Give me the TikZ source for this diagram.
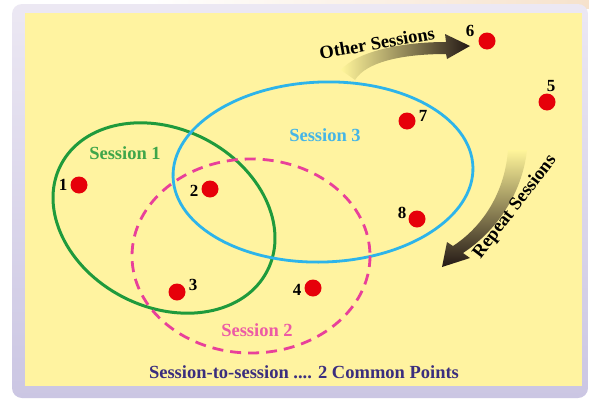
\documentclass[tikz,border=0pt]{standalone}
\usepackage{fontspec}
\setmainfont{Liberation Serif}
\definecolor{bgyellow}{HTML}{FFF3A0}
\definecolor{frametop}{HTML}{ECE8F3}
\definecolor{framebot}{HTML}{CBC6E3}
\definecolor{sgreen}{HTML}{1F9A3C}
\definecolor{sgreentext}{HTML}{3FA64A}
\definecolor{sblue}{HTML}{2DB4EA}
\definecolor{sbluetext}{HTML}{45B5E6}
\definecolor{spink}{HTML}{E8409A}
\definecolor{spinktext}{HTML}{EC5AA5}
\definecolor{dotred}{HTML}{E6000A}
\definecolor{indigo}{HTML}{3B2E7E}
\definecolor{arrowdark}{HTML}{231815}
\definecolor{arrowlight}{HTML}{FFF59A}
\definecolor{peach}{HTML}{F6E2CC}
\tikzset{
  dot/.style={circle, fill=dotred, minimum size=17pt, inner sep=0pt},
  num/.style={font=\fontsize{17}{18}\selectfont\bfseries, text=black, inner sep=0pt},
  stitle/.style={font=\fontsize{18.5}{20}\selectfont\bfseries, inner sep=0pt},
  arrowtext/.style={font=\fontsize{18.5}{20}\selectfont\bfseries, text=black, inner sep=0pt},
  ses1/.style={draw=sgreen, line width=3pt},
  ses3/.style={draw=sblue, line width=2.8pt},
  ses2/.style={draw=spink, line width=2.8pt, dash pattern=on 11pt off 7pt},
}
\begin{document}
\begin{tikzpicture}[x=1pt,y=-1pt]
\useasboundingbox (0,0) rectangle (589,399);
% outside background
\fill[white] (0,0) rectangle (589,399);
\shade[left color=white, right color=peach] (150,0) rectangle (589,8);
% frame
\shade[top color=frametop, bottom color=framebot, rounded corners=10pt] (12,4) rectangle (588,398);
\fill[bgyellow] (25,13) rectangle (582,386);

% ellipses
\draw[ses1, rotate around={-27:(164,218)}] (164,218) ellipse [x radius=116, y radius=89];
\draw[ses3, rotate around={2:(323,172)}] (323,172) ellipse [x radius=150, y radius=90];
\draw[ses2] (251,256) ellipse [x radius=119, y radius=97];

% session labels
\node[stitle, text=sgreentext] (t1) at (125,153) {Session 1};
\node[stitle, text=sbluetext] (t3) at (325,135) {Session 3};
\node[stitle, text=spinktext] (t2) at (257,330) {Session 2};
\node[stitle, text=indigo] (bottom) at (304,372) {Session-to-session .... 2 Common Points};

% points
\node[dot] (p1) at (79,185) {};
\node[dot] (p2) at (210,189) {};
\node[dot] (p3) at (177,292) {};
\node[dot] (p4) at (313,288) {};
\node[dot] (p5) at (547,102) {};
\node[dot] (p6) at (487,41) {};
\node[dot] (p7) at (407,121) {};
\node[dot] (p8) at (417,219) {};
\node[num] (n1) at (63,185) {1};
\node[num] (n2) at (194,191) {2};
\node[num] (n3) at (193,285) {3};
\node[num] (n4) at (297,290) {4};
\node[num] (n5) at (551,86) {5};
\node[num] (n6) at (470,31) {6};
\node[num] (n7) at (423,116) {7};
\node[num] (n8) at (402,213) {8};

% Other Sessions arrow
\shade[left color=arrowlight, right color=arrowdark]
  (341,70) .. controls (356,52) and (400,42) .. (446,42)
  -- (445,34) -- (470,46) -- (447,59) -- (446,54)
  .. controls (402,54) and (366,62) .. (355,80) -- cycle;
\node[arrowtext, rotate=10] (other) at (377,43) {Other Sessions};

% Repeat Sessions arrow
\shade[top color=arrowlight, bottom color=arrowdark]
  (508,150) .. controls (505,190) and (485,225) .. (453,246)
  -- (447,242) -- (442,267) -- (470,258) -- (463,253)
  .. controls (495,232) and (522,195) .. (527,150) -- cycle;
\node[arrowtext, rotate=52.5] (repeat) at (515,207) {Repeat Sessions};
\end{tikzpicture}
\end{document}
